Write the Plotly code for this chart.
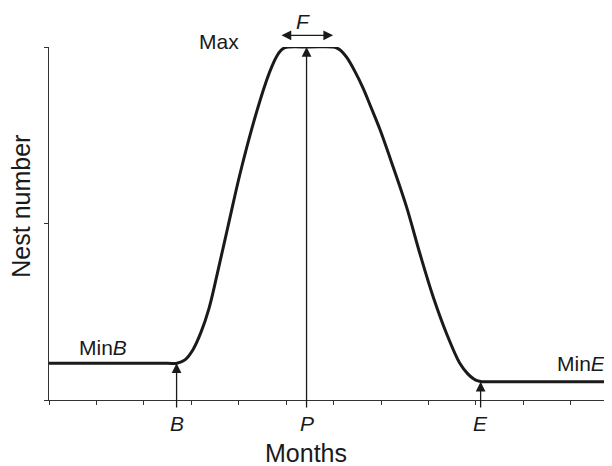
import plotly.graph_objects as go

# --- data ---
months = [0.0, 1.5, 2.5, 2.698, 2.866, 3.035, 3.203, 3.372, 3.541, 3.779, 4.025, 4.306, 4.588,
          4.700, 4.805, 4.890, 4.974, 5.058, 5.50, 5.985, 6.070, 6.154, 6.274, 6.449, 6.624,
          6.797, 6.976, 7.256, 7.538, 7.819, 8.099, 8.381, 8.661, 8.830, 8.957, 9.041, 9.125,
          9.294, 10.5, 11.87]
nests = [0.208, 0.208, 0.208, 0.208, 0.227, 0.285, 0.383, 0.518, 0.707, 0.990, 1.279, 1.566, 1.811,
         1.890, 1.949, 1.981, 1.996, 2.0, 2.0, 2.0, 1.994, 1.979, 1.942, 1.862, 1.766,
         1.653, 1.534, 1.320, 1.094, 0.830, 0.585, 0.377, 0.208, 0.148, 0.119, 0.108, 0.104,
         0.104, 0.104, 0.104]

x_ticks = list(range(12))
y_ticks = [0, 1, 2]
x_max = 11.87
y_max = 2.0

B_month, P_month, E_month = 2.69, 5.43, 9.10
min_b, max_n, min_e = 0.208, 2.0, 0.104
f_start, f_end = 4.87, 5.99

FONT = "Liberation Sans, Arial, Helvetica, sans-serif"
INK = "#1a1a1a"
LBL = 21
TTL = 25

# page has an 8px body margin: figure is drawn 8px right/down of the window origin
W, H = 604, 458
ML, MT, MB = 41, 39, 66
PW = W - ML

fig = go.Figure()
fig.add_trace(go.Scatter(x=months, y=nests, mode="lines",
                         line=dict(color=INK, width=3, shape="spline", smoothing=1.0),
                         hoverinfo="skip", showlegend=False, cliponaxis=False))

below = -0.051
ann = []
for xm, top in [(B_month, min_b), (P_month, max_n), (E_month, min_e)]:
    ann.append(dict(x=xm, y=top, ax=xm, ay=below, xref="x", yref="y", axref="x", ayref="y",
                    text="", showarrow=True, arrowhead=2, arrowsize=1.5, arrowwidth=1.3,
                    arrowcolor=INK))
# F double arrow (above the plot area: paper y, pixel offset for the tail)
f_px = (f_end - f_start) * PW / x_max
ann.append(dict(x=f_end, y=1.033, xref="x", yref="paper", ax=-f_px, ay=0,
                axref="pixel", ayref="pixel",
                text="", showarrow=True, arrowhead=2, arrowside="end+start", arrowsize=1.5,
                arrowwidth=1.3, arrowcolor=INK))

labels = [
    ("<i>F</i>", (f_start + f_end) / 2 - 0.08, "x", 1.071, "paper"),
    ("Max", 3.58, "x", 1.016, "paper"),
    ("Min<i>B</i>", 1.13, "x", 0.30, "y"),
    ("Min<i>E</i>", 11.23, "x", 0.208, "y"),
    ("<i>B</i>", B_month, "x", -0.066, "paper"),
    ("<i>P</i>", P_month, "x", -0.066, "paper"),
    ("<i>E</i>", E_month, "x", -0.066, "paper"),
]
for t, xx, xr, yy, yr in labels:
    ann.append(dict(x=xx, y=yy, xref=xr, yref=yr, text=t, showarrow=False,
                    font=dict(family=FONT, size=LBL, color=INK),
                    xanchor="center", yanchor="middle"))

# axis titles
ann.append(dict(x=0.4565, y=-0.150, xref="paper", yref="paper", text="Months", showarrow=False,
                font=dict(family=FONT, size=TTL, color=INK), xanchor="center", yanchor="middle"))
ann.append(dict(x=-0.050, y=0.55, xref="paper", yref="paper", text="Nest number", showarrow=False,
                textangle=-90, height=22, font=dict(family=FONT, size=TTL, color=INK),
                xanchor="center", yanchor="middle"))

fig.update_layout(
    width=W, height=H,
    margin=dict(l=ML, r=0, t=MT, b=MB, autoexpand=False),
    paper_bgcolor="white", plot_bgcolor="white",
    annotations=ann,
    xaxis=dict(range=[0, x_max], tickvals=x_ticks, showticklabels=False, ticks="outside",
               ticklen=4, tickwidth=1, tickcolor="#333", showline=True, linecolor="#333",
               linewidth=1.2, showgrid=False, zeroline=False, automargin=False),
    yaxis=dict(range=[0, y_max], tickvals=y_ticks, showticklabels=False, ticks="outside",
               ticklen=4, tickwidth=1, tickcolor="#333", showline=True, linecolor="#333",
               linewidth=1.2, showgrid=False, zeroline=False, automargin=False),
)

fig.write_html("out.html")
